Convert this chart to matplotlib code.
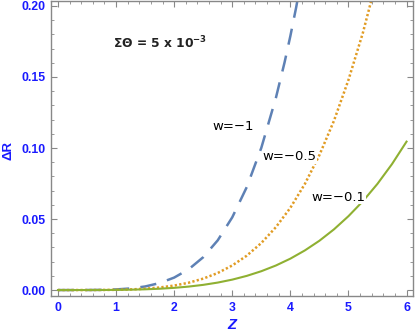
import matplotlib
matplotlib.use("Agg")
import matplotlib.pyplot as plt
from matplotlib.ticker import MultipleLocator

z = [0.0, 0.25, 0.5, 0.75, 1.0, 1.25, 1.5, 1.75, 2.0, 2.25, 2.5, 2.75, 3.0,
     3.25, 3.5, 3.75, 4.0, 4.25, 4.5, 4.75, 5.0, 5.25, 5.5, 5.75, 6.0]
z_w1 = [0.0, 0.25, 0.5, 0.75, 1.0, 1.25, 1.5, 1.75, 2.0, 2.25, 2.5, 2.75, 3.0,
        3.25, 3.5, 3.75, 3.9, 4.0, 4.1, 4.25]

dR_w1 = [0.0, 0.0, 0.00002, 0.00012, 0.00043, 0.00113, 0.00251, 0.00491, 0.00877,
         0.01462, 0.0231, 0.0350, 0.0512, 0.0725, 0.1001, 0.1351, 0.1602, 0.1788,
         0.199, 0.2327]
dR_w05 = [0.0, 0.0, 0.00001, 0.00005, 0.00017, 0.00044, 0.00094, 0.0018, 0.00315,
          0.00516, 0.00804, 0.0120, 0.0173, 0.0242, 0.0331, 0.0442, 0.0579, 0.0747,
          0.0950, 0.1191, 0.1479, 0.1813, 0.2206]
dR_w01 = [0.0, 0.0, 0.00001, 0.00004, 0.00011, 0.00026, 0.00052, 0.00093, 0.00155,
          0.00244, 0.00365, 0.00526, 0.00734, 0.00998, 0.01326, 0.01726, 0.0221,
          0.0279, 0.0347, 0.0427, 0.0520, 0.0626, 0.0748, 0.0887, 0.1045]

labels = ["w=\u22121", "w=\u22120.5", "w=\u22120.1"]
label_pos = [(3.01, 0.1148), (3.99, 0.0937), (4.82, 0.0655)]
colors = ["#5E81B5", "#E19C24", "#8FB032"]

fig = plt.figure(figsize=(4.15, 3.32), dpi=100)
ax = fig.add_axes([0.1229, 0.1084, 0.8721, 0.8886])

ax.plot(z_w1, dR_w1, color=colors[0], lw=1.8, dashes=(6.5, 4.5), zorder=2)
ax.plot(z[:len(dR_w05)], dR_w05, color=colors[1], lw=1.8, dashes=(0.9, 0.9), zorder=2)
ax.plot(z[:len(dR_w01)], dR_w01, color=colors[2], lw=1.5, zorder=2)

for lab, (xx, yy) in zip(labels, label_pos):
    ax.text(xx, yy, lab, ha="center", va="center", fontsize=9.5,
            family="DejaVu Sans", color="black", zorder=3,
            bbox=dict(facecolor="white", edgecolor="none", pad=0.5))

ax.text(1.76, 0.174, r"$\mathbf{\Sigma\Theta}$ = 5 x 10$^{\mathbf{-3}}$", ha="center",
        va="center", fontsize=8.8, fontweight="bold", family="DejaVu Sans", color="#222222")

ax.set_xlim(-0.12, 6.11)
ax.set_ylim(-0.0042, 0.2035)

ax.xaxis.set_major_locator(MultipleLocator(1))
ax.xaxis.set_minor_locator(MultipleLocator(0.2))
ax.yaxis.set_major_locator(MultipleLocator(0.05))
ax.yaxis.set_minor_locator(MultipleLocator(0.01))
ax.yaxis.set_major_formatter(matplotlib.ticker.FormatStrFormatter("%.2f"))

for s in ax.spines.values():
    s.set_color("#888888")
    s.set_linewidth(1.0)

ax.tick_params(which="both", direction="in", top=True, right=True, color="#888888",
               labelcolor="#1a1aff", labelsize=8.8, pad=4)
ax.tick_params(which="major", length=4.5, width=0.8)
ax.tick_params(which="minor", length=2.5, width=0.6)
for lbl in ax.get_xticklabels() + ax.get_yticklabels():
    lbl.set_fontweight("bold")
    lbl.set_family("Liberation Sans")

fig.text(8 / 415, 1 - 150 / 332, "\u0394R", rotation=90, ha="center", va="center",
         color="#1a1aff", fontsize=9.5, fontweight="bold", family="Liberation Sans")
fig.text(232 / 415, 1 - 325 / 332, "Z", ha="center", va="center", color="#1a1aff",
         fontsize=10.5, fontweight="bold", style="italic", family="Liberation Sans")

fig.savefig("out.png", dpi=100)
